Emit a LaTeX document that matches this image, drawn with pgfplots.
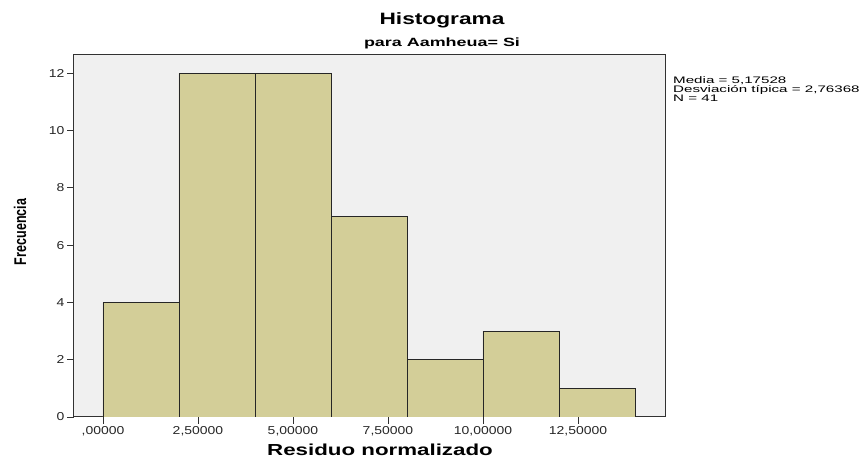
\documentclass[border=0pt]{standalone}
\usepackage{pgfplots}
\pgfplotsset{compat=1.18}
\usepackage{fontspec}
\setmainfont{Liberation Sans}

\definecolor{barfill}{RGB}{211,206,152}
\definecolor{plotbg}{RGB}{240,240,240}
\definecolor{frame}{RGB}{50,50,50}

% the source picture is stretched sideways, so the text is too
\newcommand{\hs}[1]{\scalebox{1.22}[1]{#1}}

\begin{document}
\begin{tikzpicture}[x=1bp,y=1bp]
\path[use as bounding box] (-74,-43) rectangle (794,417);
\begin{axis}[
    at={(0,0)}, anchor=south west,
    scale only axis,
    width=591bp, height=362bp,
    xmin=-0.763, xmax=14.79,
    ymin=0, ymax=12.64,
    axis background/.style={fill=plotbg},
    axis line style={frame, line width=1bp},
    tick style={frame, line width=0.8bp},
    tick align=outside,
    major tick length=7bp,
    xtick pos=bottom, ytick pos=left,
    xtick={0,2.5,5,7.5,10,12.5},
    xticklabels={\hs{,00000},\hs{2,50000},\hs{5,00000},\hs{7,50000},\hs{10,00000},\hs{12,50000}},
    ytick={0,2,4,6,8,10,12},
    yticklabels={\hs{0},\hs{2},\hs{4},\hs{6},\hs{8},\hs{10},\hs{12}},
    ticklabel style={font=\fontsize{11.5}{12}\selectfont, text=black!85},
    xticklabel style={yshift=1bp},
    yticklabel style={xshift=1bp},
]
\addplot[ybar interval, fill=barfill, draw=black!85, line width=0.8bp]
    coordinates {(0,4) (2,12) (4,12) (6,7) (8,2) (10,3) (12,1) (14,1)};
\end{axis}

\node at (368,397) {\fontsize{16.5}{18}\selectfont\bfseries\scalebox{1.38}[1]{Histograma}};
\node at (368,374) {\fontsize{12}{13}\selectfont\bfseries\scalebox{1.5}[1]{para Aamheua= Si}};
\node at (306,-33) {\fontsize{16}{17}\selectfont\bfseries\scalebox{1.4}[1]{Residuo normalizado}};
\node[rotate=90] at (-54,185) {\fontsize{17}{18}\selectfont\bfseries\scalebox{0.74}[1]{Frecuencia}};
\node[anchor=north west, inner sep=0pt, align=left, font=\fontsize{9.5}{7.2}\selectfont]
    at (599,341) {\scalebox{1.6}[1]{Media = 5,17528}\\
    \scalebox{1.6}[1]{Desviación típica = 2,76368}\\
    \scalebox{1.6}[1]{N = 41}};
\end{tikzpicture}
\end{document}
